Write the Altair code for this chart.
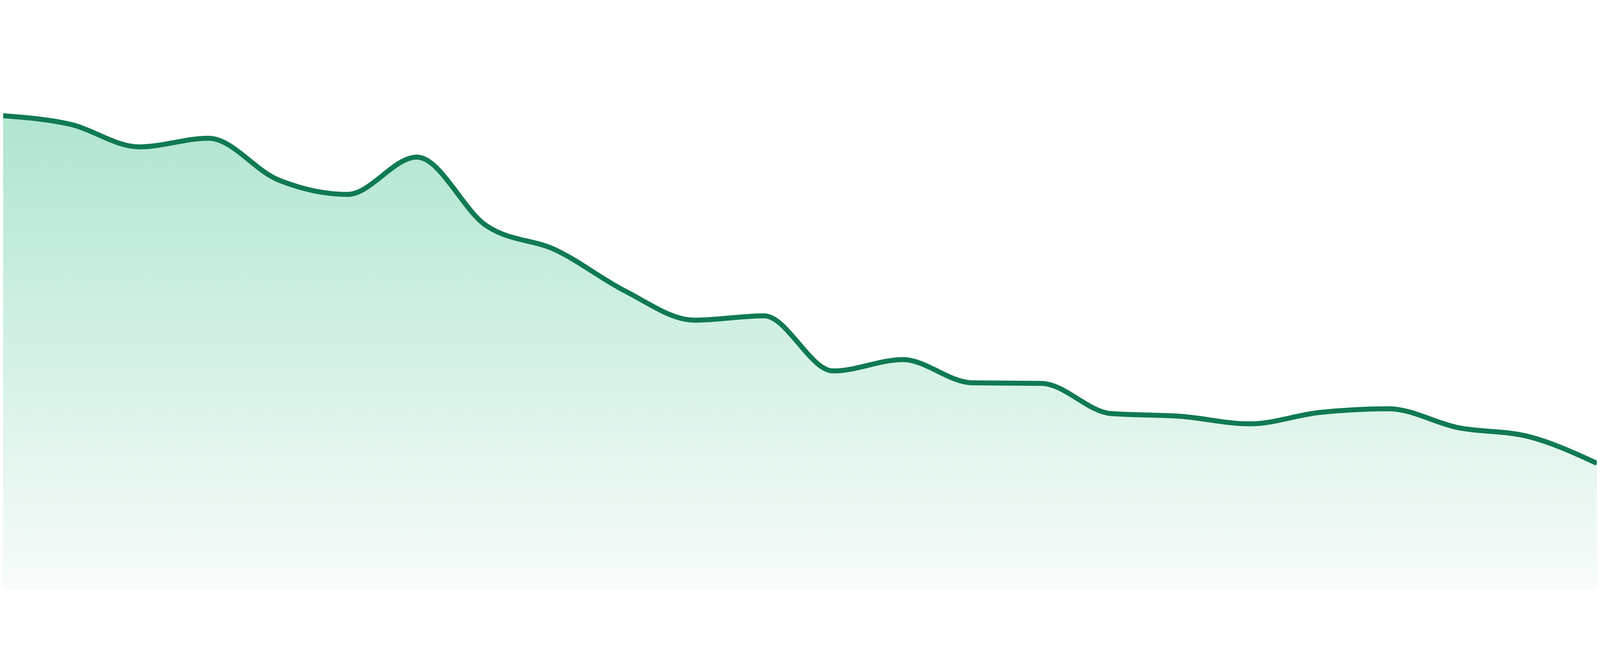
import altair as alt
import pandas as pd

# x positions (point index) and values
points = list(range(24))
values = [87.9, 86.3, 82.1, 83.7, 76.0, 73.3, 80.2, 67.5, 63.0, 55.4, 50.0, 50.8,
          40.6, 42.7, 38.4, 38.3, 32.7, 32.2, 30.8, 32.9, 33.6, 30.1, 28.5, 23.5]

df = pd.DataFrame({"point": points, "value": values})

x_enc = alt.X("point:Q", axis=None,
              scale=alt.Scale(domain=[0.0383, 23], nice=False, zero=False))
y_enc = alt.Y("value:Q", axis=None,
              scale=alt.Scale(domain=[0, 100], nice=False, zero=True))

area = alt.Chart(df).mark_area(
    interpolate="monotone",
    clip=True,
    color=alt.Gradient(
        gradient="linear",
        stops=[alt.GradientStop(color="#b0e6cf", offset=0),
               alt.GradientStop(color="#f8fcfa", offset=1)],
        x1=0, x2=0, y1=0, y2=1,
    ),
).encode(x=x_enc, y=y_enc)

line = alt.Chart(df).mark_line(
    interpolate="monotone",
    clip=True,
    color="#107a52",
    strokeWidth=15,
).encode(x=x_enc, y=y_enc)

chart = alt.layer(area, line).properties(
    width=4792,
    height=1624,
    padding=0,
    autosize=alt.AutoSizeParams(type="none"),
    background="white",
).configure_view(strokeWidth=0)

chart.save("out.html", embed_options={"renderer": "svg", "actions": False})
